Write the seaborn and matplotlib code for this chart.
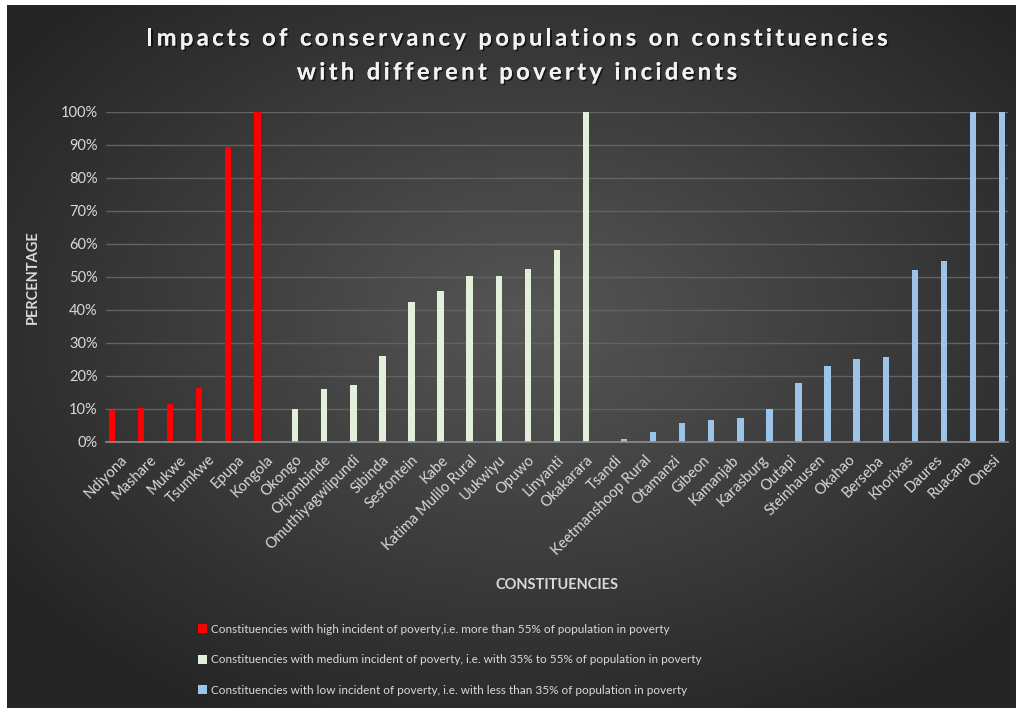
import numpy as np
import pandas as pd
import matplotlib
matplotlib.use("Agg")
import matplotlib.pyplot as plt
from matplotlib.patches import Patch
import matplotlib.patheffects as pe
import seaborn as sns

# ---- data ----
high_names = ["Ndiyona", "Mashare", "Mukwe", "Tsumkwe", "Epupa", "Kongola"]
high_vals = [9.6, 10.3, 11.4, 16.4, 89.3, 100.0]

medium_names = ["Okongo", "Otjombinde", "Omuthiyagwiipundi", "Sibinda", "Sesfontein",
                "Kabe", "Katima Mulilo Rural", "Uukwiyu", "Opuwo", "Linyanti", "Okakarara"]
medium_vals = [9.8, 15.9, 17.2, 25.9, 42.2, 45.6, 50.3, 50.3, 52.2, 58.0, 100.0]

low_names = ["Tsandi", "Keetmanshoop Rural", "Otamanzi", "Gibeon", "Kamanjab", "Karasburg",
             "Outapi", "Steinhausen", "Okahao", "Berseba", "Khorixas", "Daures", "Ruacana", "Onesi"]
low_vals = [0.8, 2.9, 5.7, 6.6, 7.2, 9.8, 17.7, 22.9, 25.1, 25.7, 51.9, 54.8, 100.0, 100.0]

groups = [
    "Constituencies with high incident of poverty,i.e. more than 55% of population in poverty",
    "Constituencies with medium incident of poverty, i.e. with 35% to 55% of population in poverty",
    "Constituencies with low incident of poverty, i.e. with less than 35% of population in poverty",
]
colors = ["#ff0000", "#e2efda", "#9dc3e6"]

title_lines = ["Impacts of conservancy populations on constituencies",
               "with different poverty incidents"]

names = high_names + medium_names + low_names
df = pd.DataFrame({
    "Constituency": names,
    "Value": high_vals + medium_vals + low_vals,
    "Group": [groups[0]] * len(high_names) + [groups[1]] * len(medium_names) + [groups[2]] * len(low_names),
})

# ---- figure ----
sns.set_style("dark")
plt.rcParams["font.family"] = ["Lato", "DejaVu Sans"]

W, H = 1016, 708
fig = plt.figure(figsize=(W / 100, H / 100), dpi=100, facecolor="white")

# background with radial gradient
bg = fig.add_axes([7 / W, 0, 1 - 7 / W, 1 - 5 / H])
bg.set_axis_off()
yy, xx = np.mgrid[0:1:400j, 0:1:600j]
r = np.sqrt(((xx - 0.52) / 0.75) ** 2 + ((yy - 0.55) / 0.75) ** 2)
r = np.clip(r / 0.85, 0, 1)
c0 = np.array([0x56, 0x56, 0x56]) / 255
c1 = np.array([0x25, 0x25, 0x25]) / 255
img = c0[None, None, :] * (1 - r[..., None]) + c1[None, None, :] * r[..., None]
bg.imshow(img, aspect="auto", extent=[0, 1, 0, 1], origin="lower")

ax = fig.add_axes([106 / W, 1 - 441.7 / H, (1008 - 106) / W, (441.7 - 111.7) / H])
ax.patch.set_alpha(0)

sns.barplot(data=df, x="Constituency", y="Value", hue="Group", order=names,
            hue_order=groups, palette=colors, width=0.9, gap=0.25, dodge=True,
            errorbar=None, ax=ax, legend=False, saturation=1, linewidth=0)

ax.set_ylim(0, 100)
ax.set_xlim(-0.5, len(names) - 0.5)
ticks = np.arange(0, 101, 10)
ax.set_yticks(ticks)
ax.set_yticklabels([f"{t}%" for t in ticks], color="#d9d9d9", fontsize=10.5)
ax.grid(axis="y", color="#626262", linewidth=1)
ax.grid(axis="x", visible=False)
ax.set_axisbelow(True)
for s in ["top", "right", "left"]:
    ax.spines[s].set_visible(False)
ax.spines["bottom"].set_color("#8c8c8c")
ax.spines["bottom"].set_linewidth(1.2)
ax.tick_params(axis="both", length=0, pad=6)
ax.set_xticks(range(len(names)))
ax.set_xticklabels(names, rotation=45, ha="right", rotation_mode="anchor",
                   color="#d9d9d9", fontsize=10.5)
ax.tick_params(axis="x", pad=8)

ax.set_xlabel("CONSTITUENCIES", color="#d9d9d9", fontsize=10.5, fontweight="bold")
ax.set_ylabel("PERCENTAGE", color="#d9d9d9", fontsize=10.5, fontweight="bold")
ax.xaxis.set_label_coords((557 - 106) / (1008 - 106), -(578 - 441.7) / 330)
ax.yaxis.set_label_coords(-(106 - 40) / (1008 - 106), 0.5)

# ---- letter-spaced title ----
shadow = [pe.withSimplePatchShadow(offset=(1.2, -1.2), shadow_rgbFace="black", alpha=0.6), pe.Normal()]
renderer = fig.canvas.get_renderer()
tkw = dict(fontsize=17, fontweight="bold", color="#f2f2f2", family=["Lato", "DejaVu Sans"])


def char_width(ch):
    if ch == " ":
        t1 = fig.text(0, 0, "a a", **tkw)
        t2 = fig.text(0, 0, "aa", **tkw)
        w = t1.get_window_extent(renderer).width - t2.get_window_extent(renderer).width
        t1.remove(); t2.remove()
        return w
    t = fig.text(0, 0, ch, **tkw)
    w = t.get_window_extent(renderer).width
    t.remove()
    return w


spacing = 3.4  # px between letters
for line, yc in zip(title_lines, [38, 72]):
    widths = [char_width(c) for c in line]
    total = sum(widths) + spacing * (len(line) - 1)
    x = 517 - total / 2
    for c, w in zip(line, widths):
        if c != " ":
            fig.text(x / W, 1 - yc / H, c, ha="left", va="center", path_effects=shadow, **tkw)
        x += w + spacing

handles = [Patch(facecolor=c, edgecolor="none") for c in colors]
fig.legend(handles, groups, loc="upper left", bbox_to_anchor=(192 / W, 1 - 618 / H),
           frameon=False, fontsize=8.5, labelcolor="#d9d9d9", handlelength=0.8,
           handleheight=0.8, handletextpad=0.3, labelspacing=1.65, borderpad=0)

fig.savefig("out.png", dpi=100, facecolor="white")
